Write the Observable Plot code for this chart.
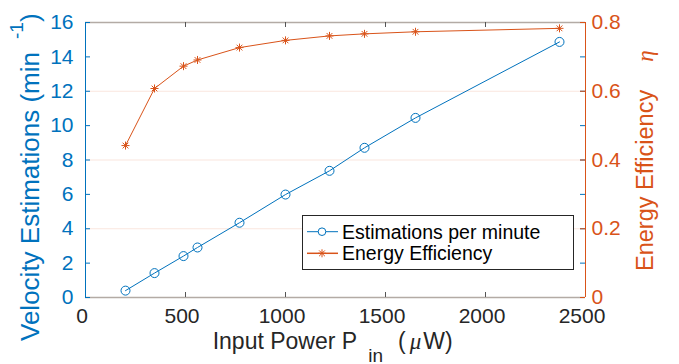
<!DOCTYPE html>
<html><head><meta charset="utf-8">
<script src="https://cdn.jsdelivr.net/npm/d3@7"></script>
<script src="https://cdn.jsdelivr.net/npm/@observablehq/plot@0.6"></script>
<style>body{margin:0;background:#fff;} svg{display:block;}</style>
</head><body><div id="chart"></div>
<script>
// ---- data ----
const power = [200, 345, 490, 560, 770, 1000, 1220, 1395, 1650, 2370];          // input power P_in (µW)
const estimations = [0.4, 1.42, 2.41, 2.91, 4.35, 5.99, 7.37, 8.71, 10.45, 14.87]; // per minute
const efficiency = [0.442, 0.608, 0.673, 0.691, 0.727, 0.748, 0.761, 0.767, 0.773, 0.783];
const xTicks = [0, 500, 1000, 1500, 2000, 2500];
const leftTicks = [0, 2, 4, 6, 8, 10, 12, 14, 16];
const rightTicks = [0, 0.2, 0.4, 0.6, 0.8];
const gridTicks = [0.2, 0.4, 0.6];
const seriesNames = ["Estimations per minute", "Energy Efficiency"];
const rightFactor = 20; // right axis 0..0.8 shares the left axis 0..16

const blue = "#0072BD", orange = "#D95319", dark = "#262626", boxGray = "#b3aba5";
const font = "'Liberation Sans', Arial, Helvetica, sans-serif";
const serif = "'Liberation Serif', 'DejaVu Serif', serif";

const rows = power.map((p, i) => ({p, est: estimations[i], eff: efficiency[i]}));
const W = 679, H = 364, mL = 85, mR = 94, mT = 22, mB = 67;
const fw = W - mL - mR, fh = H - mT - mB;

const chart = Plot.plot({
  width: W, height: H,
  marginLeft: mL, marginRight: mR, marginTop: mT, marginBottom: mB,
  style: {fontFamily: font, background: "#fff", overflow: "visible"},
  x: {domain: [0, 2500]},
  y: {domain: [0, 16]},
  marks: [
    Plot.ruleY(gridTicks, {y: d => d * rightFactor, stroke: orange, strokeOpacity: 0.15, strokeWidth: 1}),
    Plot.line(rows, {x: "p", y: "est", stroke: blue, strokeWidth: 1}),
    Plot.dot(rows, {x: "p", y: "est", r: 4.5, stroke: blue, fill: "none", strokeWidth: 1}),
    Plot.line(rows, {x: "p", y: d => d.eff * rightFactor, stroke: orange, strokeWidth: 1}),
    Plot.dot(rows, {x: "p", y: d => d.eff * rightFactor, symbol: "plus", r: 2.7, stroke: orange, fill: "none", strokeWidth: 1}),
    Plot.dot(rows, {x: "p", y: d => d.eff * rightFactor, symbol: "times", r: 2.7, stroke: orange, fill: "none", strokeWidth: 1}),
    // box top / bottom
    Plot.ruleY([0, 16], {stroke: boxGray, strokeWidth: 1.4}),
    // x ticks (inward, bottom and top)
    Plot.tickX(xTicks.slice(1, -1), {x: d => d, insetTop: fh - 5, stroke: "#555", strokeWidth: 1}),
    Plot.tickX(xTicks.slice(1, -1), {x: d => d, insetBottom: fh - 5, stroke: "#555", strokeWidth: 1}),
    // left axis ticks (and mirrored on right)
    Plot.tickY(leftTicks, {y: d => d, insetRight: fw - 5, stroke: blue, strokeWidth: 1}),
    Plot.tickY(leftTicks, {y: d => d, insetLeft: fw - 5, stroke: blue, strokeWidth: 1}),
    Plot.tickY(rightTicks, {y: d => d * rightFactor, insetLeft: fw - 5, stroke: orange, strokeWidth: 1}),
    // y axis lines
    Plot.ruleX([0], {stroke: blue, strokeWidth: 1}),
    Plot.ruleX([2500], {stroke: orange, strokeWidth: 1}),
    // tick labels
    Plot.axisX({ticks: xTicks, tickFormat: d => String(d), tickSize: 0, tickPadding: 11, fontSize: 21, color: dark, dx: -3.5, label: null}),
    Plot.axisY({anchor: "left", ticks: leftTicks, tickFormat: d => String(d), tickSize: 0, tickPadding: 12, fontSize: 21, color: blue, label: null}),
    Plot.axisY({anchor: "right", ticks: rightTicks.map(v => v * rightFactor), tickFormat: v => String(v / rightFactor),
      tickSize: 0, tickPadding: 6, fontSize: 21, color: orange, label: null})
  ]
});
document.getElementById("chart").appendChild(chart);

const svg = d3.select(chart);
// ---- titles ----
const lt = svg.append("text").attr("transform", "translate(39,341) rotate(-90)").attr("text-anchor", "start")
  .attr("font-family", font).attr("font-size", 26).attr("fill", blue);
lt.append("tspan").text("Velocity Estimations (min");
lt.append("tspan").attr("dx", 13).attr("dy", -16).attr("font-size", 19).text("-1");
lt.append("tspan").attr("dy", 16).text(")");

const rt = svg.append("text").attr("transform", "translate(653,271) rotate(-90)").attr("text-anchor", "start")
  .attr("font-family", font).attr("font-size", 23.5).attr("fill", orange);
rt.append("tspan").text("Energy Efficiency");
rt.append("tspan").attr("dx", 28).attr("font-family", serif)
  .attr("font-style", "italic").attr("font-size", 23).text("η");

const xt = svg.append("text").attr("x", 212.7).attr("y", 349).attr("text-anchor", "start")
  .attr("font-family", font).attr("font-size", 23).attr("fill", dark);
xt.append("tspan").text("Input Power P");
xt.append("tspan").attr("dx", 11).attr("dy", 13).attr("font-size", 19).text("in");
xt.append("tspan").attr("dx", 15).attr("dy", -13).text("(");
xt.append("tspan").attr("dx", 4).attr("font-family", serif).attr("font-style", "italic").text("μ");
xt.append("tspan").attr("dx", 2).text("W)");

// ---- legend ----
const lg = svg.append("g");
lg.append("rect").attr("x", 302.5).attr("y", 215.5).attr("width", 271).attr("height", 54)
  .attr("fill", "#fff").attr("stroke", dark).attr("stroke-width", 1);
const ly = [231.7, 253.3];
lg.append("line").attr("x1", 307).attr("x2", 338).attr("y1", ly[0]).attr("y2", ly[0]).attr("stroke", blue);
lg.append("circle").attr("cx", 322).attr("cy", ly[0]).attr("r", 3.8).attr("fill", "#fff").attr("stroke", blue);
lg.append("line").attr("x1", 307).attr("x2", 338).attr("y1", ly[1]).attr("y2", ly[1]).attr("stroke", orange).attr("stroke-width", 1.5);
lg.append("path").attr("transform", `translate(322,${ly[1]})`)
  .attr("d", "M-4,0H4M0,-4V4M-2.9,-2.9L2.9,2.9M-2.9,2.9L2.9,-2.9").attr("stroke", orange).attr("fill", "none");
seriesNames.forEach((n, i) => {
  lg.append("text").attr("x", 342).attr("y", ly[i] + 7).attr("text-anchor", "start").attr("font-family", font)
    .attr("font-size", 19.5).attr("fill", "#000").text(n);
});
</script>
</body></html>
